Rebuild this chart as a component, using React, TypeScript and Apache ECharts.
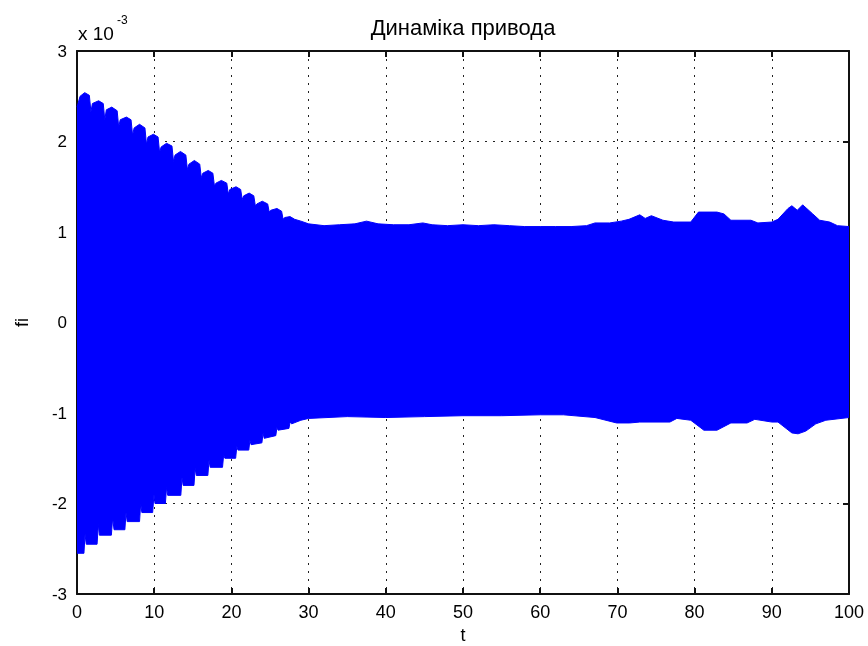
import React, { useEffect, useRef } from "react";
import * as echarts from "echarts";

// t-axis ticks and fi-axis ticks (fi in units of 1e-3)
const xTicks = [0, 10, 20, 30, 40, 50, 60, 70, 80, 90, 100];
const yTicks = [-3, -2, -1, 0, 1, 2, 3];

// Upper envelope of the oscillation [t, fi*1e3]
const upperEnvelope: [number, number][] = [
  [0, 2.38], [0.4, 2.5], [1.0, 2.54], [1.6, 2.51], [1.8, 2.33], [2.0, 2.42], [2.8, 2.45], [3.4, 2.42],
  [3.6, 2.24], [3.8, 2.35], [4.5, 2.38], [5.2, 2.34], [5.4, 2.16], [5.6, 2.24], [6.4, 2.27], [7.0, 2.24],
  [7.2, 2.07], [7.4, 2.15], [8.1, 2.19], [8.8, 2.15], [9.0, 1.97], [9.2, 2.05], [9.9, 2.08], [10.5, 2.05],
  [10.7, 1.88], [10.9, 1.94], [11.6, 1.98], [12.3, 1.95], [12.5, 1.78], [12.7, 1.85], [13.4, 1.89], [14.1, 1.85],
  [14.3, 1.69], [14.5, 1.75], [15.2, 1.79], [15.9, 1.75], [16.1, 1.6], [16.3, 1.65], [17.0, 1.68], [17.6, 1.65],
  [17.8, 1.51], [18.0, 1.54], [18.7, 1.57], [19.4, 1.54], [19.6, 1.42], [19.8, 1.47], [20.6, 1.5], [21.2, 1.47],
  [21.4, 1.36], [21.6, 1.4], [22.3, 1.43], [22.9, 1.4], [23.1, 1.29], [23.3, 1.31], [24.0, 1.34], [24.7, 1.31],
  [24.9, 1.22], [25.1, 1.24], [25.9, 1.26], [26.5, 1.23], [26.7, 1.14], [26.9, 1.16], [27.6, 1.17], [28.2, 1.14],
  [29, 1.12], [30, 1.09], [32, 1.07], [34, 1.08], [36, 1.09], [37.5, 1.12], [39, 1.09], [41, 1.08],
  [43, 1.08], [44.8, 1.1], [46, 1.08], [48, 1.07], [50, 1.08], [52, 1.07], [54, 1.08], [56, 1.07],
  [58, 1.06], [60, 1.06], [62, 1.06], [64, 1.06], [66, 1.07], [67.1, 1.1], [69, 1.1], [70.5, 1.12],
  [71.5, 1.14], [72.9, 1.19], [73.6, 1.15], [74.4, 1.18], [75.9, 1.13], [77.3, 1.11], [79.5, 1.11], [80.5, 1.22],
  [82.9, 1.22], [83.8, 1.2], [84.7, 1.13], [87.3, 1.13], [88.2, 1.1], [90.0, 1.11], [90.8, 1.14], [92.1, 1.26],
  [92.6, 1.29], [93.3, 1.24], [94.0, 1.3], [95.3, 1.2], [96.2, 1.13], [97.5, 1.11], [98.5, 1.07], [100, 1.06],
];

// Lower envelope of the oscillation [t, fi*1e3]
const lowerEnvelope: [number, number][] = [
  [0, -2.55], [0.9, -2.55], [1.04, -2.34], [1.2, -2.45], [2.6, -2.45], [2.76, -2.23], [2.9, -2.35], [4.45, -2.35],
  [4.62, -2.16], [4.8, -2.29], [6.2, -2.29], [6.35, -2.1], [6.5, -2.2], [8.1, -2.2], [8.25, -2.0], [8.4, -2.1],
  [9.8, -2.1], [9.97, -1.9], [10.1, -2.0], [11.45, -2.0], [11.6, -1.82], [11.75, -1.91], [13.45, -1.91], [13.6, -1.71],
  [13.75, -1.8], [15.15, -1.8], [15.3, -1.61], [15.45, -1.69], [16.95, -1.69], [17.1, -1.52], [17.25, -1.6], [18.85, -1.6],
  [19.0, -1.46], [19.15, -1.5], [20.55, -1.5], [20.7, -1.37], [20.85, -1.41], [22.25, -1.41], [22.4, -1.3], [22.55, -1.35],
  [23.95, -1.33], [24.1, -1.22], [24.25, -1.28], [25.75, -1.25], [25.9, -1.16], [26.05, -1.19], [27.45, -1.17], [27.6, -1.1],
  [27.8, -1.12], [29, -1.08], [30, -1.06], [35, -1.04], [40, -1.05], [45, -1.04], [50, -1.03], [55, -1.03],
  [60, -1.02], [63, -1.02], [67.1, -1.05], [69.9, -1.11], [71.6, -1.11], [72.9, -1.1], [76.8, -1.1], [77.7, -1.06],
  [79.5, -1.08], [81.2, -1.19], [82.9, -1.19], [84.7, -1.11], [86.8, -1.11], [87.8, -1.07], [90, -1.1], [90.8, -1.1],
  [92.6, -1.22], [93.4, -1.23], [94.4, -1.2], [95.7, -1.12], [97, -1.08], [100, -1.05],
];

const titleText = "Динаміка привода";
const xName = "t";
const yName = "fi";

const FONT = "'Liberation Sans', Arial, sans-serif";

export default function App() {
  const ref = useRef<HTMLDivElement>(null);
  useEffect(() => {
    if (!ref.current) return;
    const chart = echarts.init(ref.current, null, { renderer: "svg" });
    const dotted = { show: true, lineStyle: { color: "#222", width: 1, type: [2, 6] } };
    const frameLine = { show: true, onZero: false, lineStyle: { color: "#111", width: 2 } };
    const frameTick = { show: true, inside: true, length: 6, lineStyle: { color: "#111", width: 2 } };
    chart.setOption({
      animation: false,
      grid: { left: 77, right: 19, top: 51, bottom: 52, containLabel: false },
      xAxis: [
        {
          type: "value",
          position: "bottom",
          min: xTicks[0],
          max: xTicks[xTicks.length - 1],
          interval: 10,
          axisLine: frameLine,
          axisTick: frameTick,
          axisLabel: { color: "#000", fontSize: 18, fontFamily: FONT, margin: 9 },
          splitLine: dotted,
        },
        {
          type: "value",
          position: "top",
          min: xTicks[0],
          max: xTicks[xTicks.length - 1],
          interval: 10,
          axisLine: frameLine,
          axisTick: frameTick,
          axisLabel: { show: false },
          splitLine: { show: false },
        },
      ],
      yAxis: [
        {
          type: "value",
          position: "left",
          min: yTicks[0],
          max: yTicks[yTicks.length - 1],
          interval: 1,
          axisLine: frameLine,
          axisTick: frameTick,
          axisLabel: { color: "#000", fontSize: 17, fontFamily: FONT, margin: 10 },
          splitLine: dotted,
        },
        {
          type: "value",
          position: "right",
          min: yTicks[0],
          max: yTicks[yTicks.length - 1],
          interval: 1,
          axisLine: frameLine,
          axisTick: frameTick,
          axisLabel: { show: false },
          splitLine: { show: false },
        },
      ],
      series: [
        {
          type: "line",
          xAxisIndex: 0,
          yAxisIndex: 0,
          data: upperEnvelope,
          symbol: "none",
          lineStyle: { color: "#0000ff", width: 1 },
          areaStyle: { color: "#0000ff", opacity: 1, origin: -0.05 },
        },
        {
          type: "line",
          xAxisIndex: 0,
          yAxisIndex: 0,
          data: lowerEnvelope,
          symbol: "none",
          lineStyle: { color: "#0000ff", width: 1 },
          areaStyle: { color: "#0000ff", opacity: 1, origin: 0.05 },
        },
      ],
    });

    // Frame drawn again through the chart's own scales, as stroked graphic lines
    const finder = { xAxisIndex: 0, yAxisIndex: 0 };
    const [x0, yBot] = chart.convertToPixel(finder, [xTicks[0], yTicks[0]]) as number[];
    const [x1, yTop] = chart.convertToPixel(finder, [xTicks[xTicks.length - 1], yTicks[yTicks.length - 1]]) as number[];
    const edge = (ax: number, ay: number, bx: number, by: number) => ({
      type: "line",
      silent: true,
      shape: { x1: ax, y1: ay, x2: bx, y2: by },
      style: { stroke: "#111", lineWidth: 2 },
    });

    chart.setOption({
      graphic: [
        edge(x0, yTop, x1, yTop),
        edge(x0, yBot, x1, yBot),
        edge(x0, yTop, x0, yBot),
        edge(x1, yTop, x1, yBot),
        {
          type: "text",
          x: (x0 + x1) / 2,
          y: 27,
          style: { text: titleText, fontSize: 22, fontFamily: FONT, fill: "#000", align: "center", verticalAlign: "middle" },
        },
        {
          type: "text",
          x: 78,
          y: 33,
          style: { text: "x 10", fontSize: 19, fontFamily: FONT, fill: "#000", verticalAlign: "middle" },
        },
        {
          type: "text",
          x: 117,
          y: 20,
          style: { text: "-3", fontSize: 12, fontFamily: FONT, fill: "#000", verticalAlign: "middle" },
        },
        {
          type: "text",
          x: (x0 + x1) / 2,
          y: 635,
          style: { text: xName, fontSize: 18, fontFamily: FONT, fill: "#000", align: "center", verticalAlign: "middle" },
        },
        {
          type: "text",
          x: 22,
          y: (yTop + yBot) / 2,
          rotation: Math.PI / 2,
          style: { text: yName, fontSize: 18, fontFamily: FONT, fill: "#000", align: "center", verticalAlign: "middle" },
        },
      ],
    });
    return () => chart.dispose();
  }, []);
  return <div ref={ref} style={{ position: "fixed", left: 0, top: 0, width: 868, height: 646 }} />;
}
